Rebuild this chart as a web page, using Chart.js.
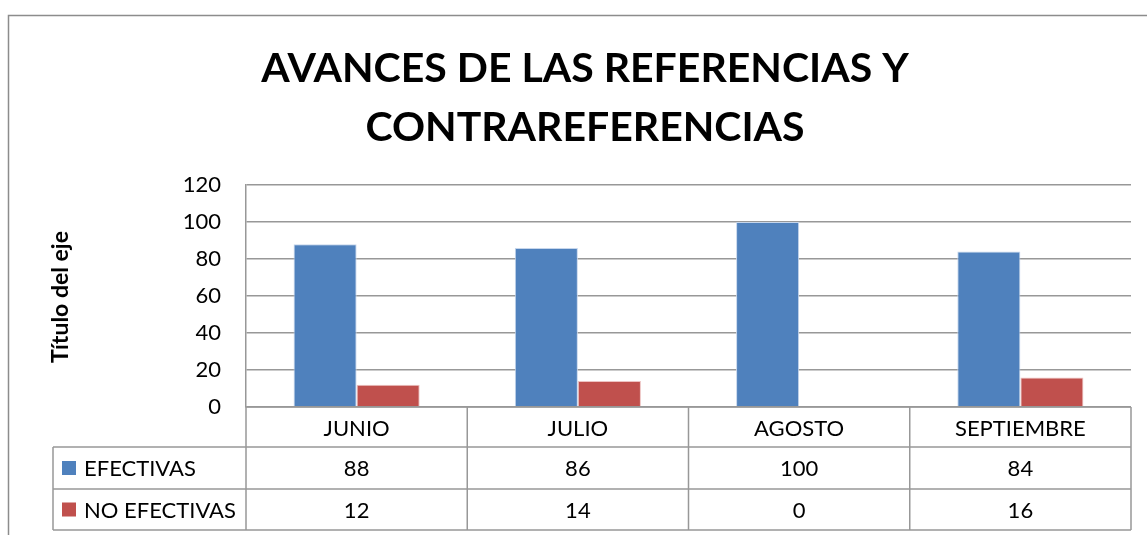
<!DOCTYPE html>
<html><head><meta charset="utf-8">
<script src="https://cdn.jsdelivr.net/npm/chart.js@4"></script>
<style>html,body{margin:0;padding:0;background:#fff;}#wrap{width:1147px;height:535px;position:relative;}</style>
</head><body><div id="wrap"><canvas id="c" width="1147" height="535"></canvas></div>
<script>
const categories = ["JUNIO", "JULIO", "AGOSTO", "SEPTIEMBRE"];
const efectivas = [88, 86, 100, 84];
const noEfectivas = [12, 14, 0, 16];
const seriesNames = ["EFECTIVAS", "NO EFECTIVAS"];
const titleLines = ["AVANCES DE LAS REFERENCIAS Y", "CONTRAREFERENCIAS"];
const yTitle = "Título del eje";

const FONT = "Lato, 'Open Sans', sans-serif";
const GRID = "#989898";

const framePlugin = {
  id: "frame",
  beforeDraw(chart) {
    const ctx = chart.ctx;
    ctx.save();
    ctx.fillStyle = "#fff";
    ctx.fillRect(0, 0, chart.width, chart.height);
    ctx.strokeStyle = "#8c8c8c";
    ctx.lineWidth = 1.5;
    ctx.strokeRect(8.5, 15.5, 2000, 2000);
    ctx.restore();
  },
  afterDraw(chart) {
    const ctx = chart.ctx;
    const area = chart.chartArea;
    const xs = chart.scales.x;
    ctx.save();
    // title
    ctx.fillStyle = "#000";
    ctx.textAlign = "center";
    ctx.textBaseline = "middle";
    ctx.font = "bold 41px " + FONT;
    ctx.fillText(titleLines[0], 585, 69);
    ctx.fillText(titleLines[1], 585, 128);
    // y axis title
    ctx.save();
    ctx.translate(61, 297);
    ctx.rotate(-Math.PI / 2);
    ctx.font = "bold 23px " + FONT;
    ctx.fillText(yTitle, 0, 0);
    ctx.restore();
    // data table
    const rowTop = area.bottom;
    const rows = [rowTop, 447, 489, 530];
    const tableLeft = 53;
    const n = categories.length;
    const step = (xs.getPixelForValue(1) - xs.getPixelForValue(0));
    const bounds = [];
    for (let i = 0; i < n; i++) bounds.push(xs.getPixelForValue(i) - step / 2);
    bounds.push(xs.getPixelForValue(n - 1) + step / 2);
    ctx.strokeStyle = GRID;
    ctx.lineWidth = 1.5;
    ctx.beginPath();
    ctx.moveTo(bounds[0], rows[0]); ctx.lineTo(bounds[n], rows[0]);
    for (let r = 1; r < rows.length; r++) {
      ctx.moveTo(tableLeft, rows[r]); ctx.lineTo(bounds[n], rows[r]);
    }
    ctx.moveTo(tableLeft, rows[1]); ctx.lineTo(tableLeft, rows[3]);
    for (let i = 0; i <= n; i++) {
      ctx.moveTo(bounds[i], rows[0]); ctx.lineTo(bounds[i], rows[3]);
    }
    ctx.stroke();
    // texts
    ctx.fillStyle = "#000";
    ctx.font = "22px " + FONT;
    ctx.textAlign = "center";
    for (let i = 0; i < n; i++) {
      const cx = xs.getPixelForValue(i);
      ctx.fillText(categories[i], cx, (rows[0] + rows[1]) / 2 + 2);
      ctx.fillText(String(efectivas[i]), cx, (rows[1] + rows[2]) / 2 + 1);
      ctx.fillText(String(noEfectivas[i]), cx, (rows[2] + rows[3]) / 2 + 1);
    }
    const colors = chart.data.datasets.map(d => d.backgroundColor);
    ctx.textAlign = "left";
    for (let s = 0; s < 2; s++) {
      const cy = (rows[s + 1] + rows[s + 2]) / 2;
      ctx.fillStyle = colors[s];
      ctx.fillRect(62, cy - 7, 14, 14);
      ctx.fillStyle = "#000";
      ctx.fillText(seriesNames[s], 84, cy + 1);
    }
    ctx.restore();
  }
};

new Chart(document.getElementById("c"), {
  type: "bar",
  data: {
    labels: categories,
    datasets: [
      { label: seriesNames[0], data: efectivas, backgroundColor: "#4F81BD", borderColor: "#C6D6EC", borderWidth: 1, borderSkipped: "bottom" },
      { label: seriesNames[1], data: noEfectivas, backgroundColor: "#C0504D", borderColor: "#EDC3C2", borderWidth: 1, borderSkipped: "bottom" }
    ]
  },
  options: {
    responsive: false,
    animation: false,
    events: [],
    layout: { padding: { left: 0, top: 185, right: 16, bottom: 128 } },
    datasets: { bar: { categoryPercentage: 0.57, barPercentage: 1 } },
    plugins: { legend: { display: false }, title: { display: false }, tooltip: { enabled: false } },
    scales: {
      x: { display: false },
      y: {
        min: 0, max: 120,
        ticks: { stepSize: 20, padding: 25, color: "#000", font: { family: FONT, size: 22 } },
        grid: { color: GRID, lineWidth: 1.5, drawTicks: false },
        border: { display: true, color: GRID, width: 1.5 },
        afterFit(scale) { scale.width = 246; }
      }
    }
  },
  plugins: [framePlugin]
});
</script>
</body></html>
